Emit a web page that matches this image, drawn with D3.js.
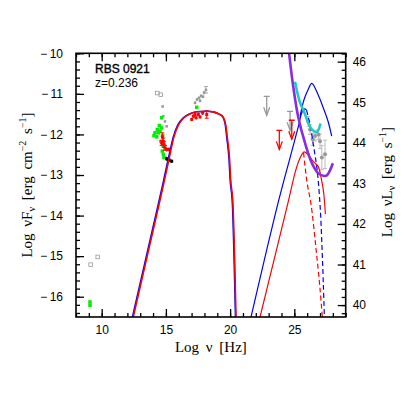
<!DOCTYPE html>
<html>
<head>
<meta charset="utf-8">
<script src="https://cdn.jsdelivr.net/npm/d3@7"></script>
<style>
body { margin: 0; background: #fff; }
svg { display: block; }
.tick text { font-family: "Liberation Sans", Arial, sans-serif; font-size: 12px; fill: #000; }
.title { font-family: "Liberation Serif", "DejaVu Serif", serif; font-size: 15px; word-spacing: 3px; }
</style>
</head>
<body>
<svg id="chart" width="411" height="411"></svg>
<script>
// log nu, log nuFnu pairs
let syncBlue = [[12.40,-16.5],[14.41,-13.72],[14.78,-13.20],[15.19,-12.60],[15.58,-12.06],[15.94,-11.76],
  [16.36,-11.59],[16.88,-11.49],[17.40,-11.44],[18.18,-11.43],[18.75,-11.45],[19.14,-11.50],
  [19.35,-11.54],[19.53,-11.64],[19.62,-11.75],[19.76,-12.12],[19.92,-12.62],[20.00,-13.10],
  [20.18,-13.72],[20.42,-16.5]];
let syncRed = [[12.46,-16.5],[14.47,-13.72],[14.84,-13.20],[15.25,-12.60],[15.63,-12.06],[15.99,-11.76],
  [16.40,-11.59],[16.90,-11.49],[17.40,-11.44],[18.18,-11.43],[18.75,-11.45],[19.16,-11.50],
  [19.38,-11.54],[19.56,-11.64],[19.65,-11.75],[19.80,-12.12],[19.96,-12.62],[20.04,-13.10],
  [20.22,-13.72],[20.46,-16.5]];
let icBlueRise = [[21.63,-16.5],[23.71,-13.72],[24.67,-12.57],[25.30,-11.82],[25.60,-11.45],[25.80,-11.37],[25.95,-11.40]];
let icBlueDash = [[25.95,-11.40],[26.22,-11.76],[26.54,-12.37],[26.77,-12.86],[27.00,-13.72],[27.16,-14.82],[27.27,-15.80],[27.34,-16.5]];
let icBlueTotal = [[25.45,-11.55],[25.76,-11.14],[26.07,-10.90],[26.36,-10.74],[26.85,-11.02],[27.31,-11.39],[27.63,-11.68],[27.91,-12.04]];
let icRed = [[22.33,-16.5],[24.48,-13.72],[25.13,-12.86],[25.45,-12.58],[25.76,-12.43],[26.07,-12.50],
  [26.46,-12.66],[26.87,-12.80],[27.08,-13.06],[27.27,-13.40],[27.42,-13.96]];
let icRedDash = [[25.72,-12.45],[25.99,-13.18],[26.30,-13.72],[26.69,-14.82],[27.00,-15.80],[27.18,-16.5]];
let sensPurple = [[24.52,-9.8],[24.88,-10.74],[25.29,-11.55],[25.83,-12.21],[26.36,-12.70],[26.87,-12.96],[27.26,-13.02],[27.53,-13.01],[28.00,-12.71]];
let bowCyan = [[25.05,-10.70],[25.45,-11.22],[25.76,-11.44],[26.09,-11.72],[26.38,-11.88],[26.75,-11.94],[27.04,-11.73]];

let greenPts = [[14.67,-11.59],[14.49,-11.78],[14.67,-11.84],[14.33,-11.88],[14.15,-11.96],[14.07,-12.03],
  [14.41,-11.96],[14.54,-11.92],[14.29,-12.06],[14.75,-12.03],[14.62,-12.17],[14.80,-12.29],
  [14.72,-12.41],[14.80,-12.49],[14.85,-12.57],[17.40,-11.33],[9.09,-16.13],[9.09,-16.21]];
// nu, flux, error
let redPts = [[14.72,-12.06,0.10],[14.80,-12.17,0.08],[14.67,-12.21,0.06],[14.85,-12.25,0.07],[14.93,-12.33,0.06],
  [15.06,-12.37,0.05],[15.24,-12.37,0.05],[17.01,-11.63,0.04],[17.14,-11.55,0.04],[17.27,-11.51,0.04],
  [17.35,-11.59,0.04],[17.53,-11.51,0.04],[17.66,-11.57,0.04],[17.86,-11.47,0.05],[18.18,-11.51,0.09]];
let blackPts = [[15.06,-12.60,0.05],[15.26,-12.63,0.04],[15.45,-12.66,0.04]];
let greyPts = [[17.27,-11.22,0.04],[17.42,-11.14,0.04],[17.58,-11.10,0.04],[17.66,-11.17,0.04],[17.74,-11.05,0.04],
  [17.89,-11.07,0.04],[17.97,-10.97,0.05],[18.12,-10.90,0.08],[14.80,-11.55,0.02],[14.93,-11.68,0.02],
  [15.06,-11.80,0.02],[14.75,-11.31,0.02]];
let greyOpen = [[14.33,-10.98],[14.60,-11.02],[9.14,-15.21],[9.69,-15.02]];
let gammaPts = [[26.09,-11.68,0.12],[26.22,-11.88,0.12],[26.43,-12.12,0.15],[26.61,-12.04,0.12],
  [26.87,-12.00,0.12],[27.00,-12.17,0.18],[27.14,-12.57,0.30],[27.39,-12.49,0.35]];
let greyLimits = [[22.85,-11.06],[24.67,-11.43]];
let redLimits = [[23.83,-11.90],[24.80,-11.65]];

let xTicks = [10, 15, 20, 25];
let yTicks = [-16, -15, -14, -13, -12, -11, -10];
let lTicks = [40, 41, 42, 43, 44, 45, 46];
let dL = 56.206; // log nuLnu - log nuFnu

let mLeft = 76, mRight = 345.7, mTop = 53.3, mBottom = 317;
let svg = d3.select('#chart');
let x = d3.scaleLinear().domain([8, 29]).range([mLeft, mRight]);
let y = d3.scaleLinear().domain([-16.5, -10]).range([mBottom, mTop]);
let yR = d3.scaleLinear().domain([-16.5 + dL, -10 + dL]).range([mBottom, mTop]);

svg.append('defs').append('clipPath').attr('id', 'clip')
  .append('rect').attr('x', mLeft).attr('y', mTop).attr('width', mRight - mLeft).attr('height', mBottom - mTop);

let minorX = d3.range(8, 29.01, 1);
let minorY = d3.range(-16.4, -9.99, 0.2).map(v => +v.toFixed(1));
let minorL = d3.range(39.8, 46.21, 0.2).map(v => +v.toFixed(1));
let fmt = d => d < 0 ? '\u2212\u2009' + Math.abs(d) : String(d);

function addAxis(axis, tx, ty) {
  let g = svg.append('g').attr('transform', 'translate(' + tx + ',' + ty + ')').call(axis);
  g.select('.domain').remove();
  g.selectAll('line').attr('stroke', '#000').attr('stroke-width', 1.3);
  return g;
}
addAxis(d3.axisBottom(x).tickValues(minorX).tickSize(-4).tickFormat(''), 0, mBottom);
addAxis(d3.axisBottom(x).tickValues(xTicks).tickSize(-8).tickPadding(8).tickFormat(fmt), 0, mBottom);
addAxis(d3.axisTop(x).tickValues(minorX).tickSize(-4).tickFormat(''), 0, mTop);
addAxis(d3.axisTop(x).tickValues(xTicks).tickSize(-8).tickFormat(''), 0, mTop);
addAxis(d3.axisLeft(y).tickValues(minorY).tickSize(-4).tickFormat(''), mLeft, 0);
addAxis(d3.axisLeft(y).tickValues(yTicks).tickSize(-8).tickPadding(13).tickFormat(fmt), mLeft, 0);
addAxis(d3.axisRight(yR).tickValues(minorL).tickSize(-4).tickFormat(''), mRight, 0);
addAxis(d3.axisRight(yR).tickValues(lTicks).tickSize(-8).tickPadding(7).tickFormat(fmt), mRight, 0);

let plot = svg.append('g').attr('clip-path', 'url(#clip)');
let line = d3.line().x(d => x(d[0])).y(d => y(d[1])).curve(d3.curveMonotoneX);
let lineN = d3.line().x(d => x(d[0])).y(d => y(d[1])).curve(d3.curveCatmullRom);

function drawLine(data, color, w, dash, gen) {
  plot.append('path').datum(data).attr('d', gen || lineN)
    .attr('fill', 'none').attr('stroke', color).attr('stroke-width', w)
    .attr('stroke-dasharray', dash || null);
}

// data points
function errBars(data, color) {
  let g = plot.append('g').attr('stroke', color).attr('stroke-width', 1);
  data.forEach(function (d) {
    g.append('line').attr('x1', x(d[0])).attr('x2', x(d[0])).attr('y1', y(d[1] - d[2])).attr('y2', y(d[1] + d[2]));
    if (d[2] > 0.05) {
      [d[1] - d[2], d[1] + d[2]].forEach(function (v) {
        g.append('line').attr('x1', x(d[0]) - 2).attr('x2', x(d[0]) + 2).attr('y1', y(v)).attr('y2', y(v));
      });
    }
  });
}
function squares(data, color, s) {
  plot.append('g').selectAll('rect').data(data).enter().append('rect')
    .attr('x', d => x(d[0]) - s / 2).attr('y', d => y(d[1]) - s / 2)
    .attr('width', s).attr('height', s).attr('fill', color);
}
function limits(data, color) {
  let g = plot.append('g').attr('stroke', color).attr('stroke-width', 1.3).attr('fill', 'none');
  data.forEach(function (d) {
    let px = x(d[0]), py = y(d[1]);
    g.append('line').attr('x1', px - 3).attr('x2', px + 3).attr('y1', py).attr('y2', py);
    g.append('line').attr('x1', px).attr('x2', px).attr('y1', py).attr('y2', py + 19);
    g.append('path').attr('d', 'M' + (px - 3) + ',' + (py + 11) + 'L' + px + ',' + (py + 19) + 'L' + (px + 3) + ',' + (py + 11));
  });
}

plot.append('g').selectAll('rect').data(greyOpen).enter().append('rect')
  .attr('x', d => x(d[0]) - 1.8).attr('y', d => y(d[1]) - 1.8).attr('width', 3.6).attr('height', 3.6)
  .attr('fill', 'none').attr('stroke', '#999').attr('stroke-width', 0.8);
errBars(greyPts, '#aaa');
squares(greyPts, '#999', 2.5);
squares(greenPts, '#00ee00', 3.5);
errBars(redPts, '#ff0000');
squares(redPts, '#ff0000', 3);
errBars(blackPts, '#000');
squares(blackPts, '#000', 3);
limits(greyLimits, '#999');
limits(redLimits, '#ff0000');
errBars(gammaPts, '#bbb');
plot.append('g').selectAll('circle').data(gammaPts).enter().append('circle')
  .attr('cx', d => x(d[0])).attr('cy', d => y(d[1])).attr('r', 2).attr('fill', '#999');

// model curves
drawLine(syncBlue, '#0000ff', 1.6, null, line);
drawLine(syncRed, '#ff0000', 1.6, null, line);
drawLine(icBlueRise, '#0000ff', 1.2);
drawLine(icBlueDash, '#0000ff', 1.2, '5,3');
drawLine(icBlueTotal, '#0000ff', 1.2);
drawLine(icRed, '#ff0000', 1.2);
drawLine(icRedDash, '#ff0000', 1.2, '5,3');
drawLine(sensPurple, '#8a2be2', 2.6);
drawLine(bowCyan, '#20c8c8', 2.6);

svg.append('rect').attr('x', mLeft).attr('y', mTop).attr('width', mRight - mLeft).attr('height', mBottom - mTop)
  .attr('fill', 'none').attr('stroke', '#000').attr('stroke-width', 1.6);

// labels
let lab = svg.append('g').attr('font-family', '"Liberation Sans", Arial, sans-serif').attr('font-size', 12);
lab.append('text').attr('x', 95).attr('y', 73).attr('stroke', '#000').attr('stroke-width', 0.35).text('RBS 0921');
lab.append('text').attr('x', 95).attr('y', 87).text('z=0.236');

function title(parts, tx, ty, rot, size) {
  let t = svg.append('text').attr('class', 'title').attr('text-anchor', 'middle').attr('font-size', size)
    .attr('transform', 'translate(' + tx + ',' + ty + ') rotate(' + rot + ')');
  parts.forEach(function (p) {
    let s = t.append('tspan').text(p[0]);
    if (p[1] === 'sub') s.attr('font-size', 10).attr('dy', 3);
    if (p[1] === 'sup') s.attr('font-size', 10).attr('dy', -6);
    if (p[1] === 'back') s.attr('dy', p[2]);
  });
}
title([['Log ν [Hz]']], (mLeft + mRight) / 2, 352, 0, 16);
title([['Log ν'], ['F'], ['ν', 'sub'], [' [erg cm', 'back', -3], ['−2', 'sup'], [' s', 'back', 6], ['−1', 'sup'], [']', 'back', 6]], 32, 185, -90, 15);
title([['Log ν'], ['L'], ['ν', 'sub'], [' [erg s', 'back', -3], ['−1', 'sup'], [']', 'back', 6]], 392, 182, -90, 15);
</script>
</body>
</html>
